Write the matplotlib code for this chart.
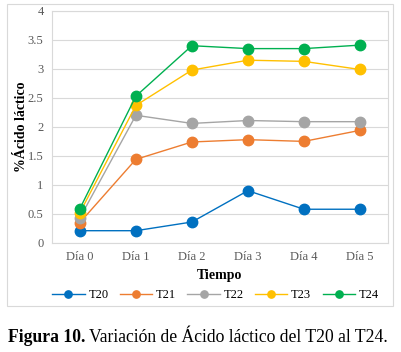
import matplotlib
matplotlib.use("Agg")
import matplotlib.pyplot as plt
from matplotlib.patches import Rectangle

plt.rcParams['font.family'] = ['Liberation Serif', 'DejaVu Serif']

dias = ['Día 0', 'Día 1', 'Día 2', 'Día 3', 'Día 4', 'Día 5']
t20 = [0.21, 0.21, 0.36, 0.90, 0.58, 0.58]
t21 = [0.35, 1.44, 1.74, 1.78, 1.75, 1.94]
t22 = [0.43, 2.20, 2.06, 2.11, 2.09, 2.09]
t23 = [0.52, 2.37, 2.98, 3.15, 3.13, 2.99]
t24 = [0.59, 2.53, 3.40, 3.35, 3.35, 3.41]
series = {'T20': t20, 'T21': t21, 'T22': t22, 'T23': t23, 'T24': t24}
colores = ['#0070C0', '#ED7D31', '#A5A5A5', '#FFC000', '#00B050']

fig = plt.figure(figsize=(4.02, 3.52), dpi=100)
ax = fig.add_axes([0.129, 0.310, 0.836, 0.659])

x = range(len(dias))
for (nombre, vals), c in zip(series.items(), colores):
    ax.plot(x, vals, '-o', color=c, lw=1.0, ms=7.5, label=nombre, zorder=3)

ax.set_xlim(-0.5, len(dias) - 0.5)
ax.set_ylim(0, 4)
ax.set_yticks([0, 0.5, 1, 1.5, 2, 2.5, 3, 3.5, 4])
ax.set_yticklabels(['0', '0.5', '1', '1.5', '2', '2.5', '3', '3.5', '4'])
ax.set_xticks(list(x))
ax.set_xticklabels(dias)
ax.tick_params(length=0, labelsize=9, colors='#595959', pad=6)
ax.grid(axis='y', color='#D9D9D9', lw=0.8)
for s in ax.spines.values():
    s.set_color('#D9D9D9')
    s.set_linewidth(0.8)
ax.set_ylabel('%Ácido láctico', fontsize=10, fontweight='bold', labelpad=0)
ax.set_xlabel('Tiempo', fontsize=10, fontweight='bold', labelpad=4)

fig.legend(loc='center', bbox_to_anchor=(0.536, 0.162), ncol=5, frameon=False,
           fontsize=9, handlelength=2.6, columnspacing=0.9, handletextpad=0.3,
           markerscale=0.7, borderpad=0)

fig.patches.append(Rectangle((7 / 402, 1 - 306 / 352), 386 / 402, 302 / 352,
                             transform=fig.transFigure, fill=False,
                             edgecolor='#D9D9D9', lw=0.8))

t1 = fig.text(8 / 402, 1 - 337 / 352, 'Figura 10.', fontsize=12.7, fontweight='bold', va='center')
fig.canvas.draw()
bb = t1.get_window_extent()
fig.text((bb.x1 + 4) / fig.bbox.width, 1 - 337 / 352,
         'Variación de Ácido láctico del T20 al T24.', fontsize=12.7, va='center')

fig.savefig('out.png', dpi=100)
